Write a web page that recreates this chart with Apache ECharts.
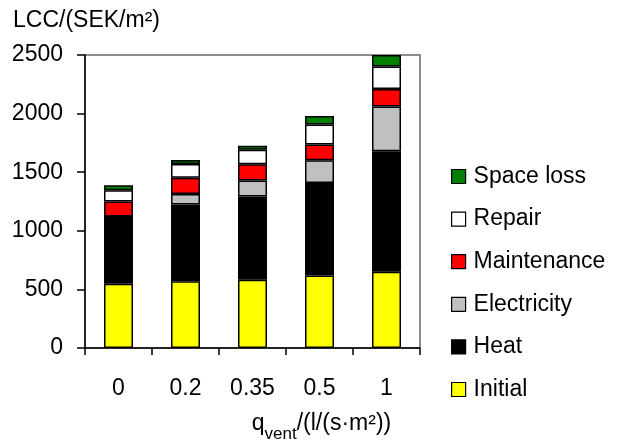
<!DOCTYPE html>
<html>
<head>
<meta charset="utf-8">
<script src="https://cdn.jsdelivr.net/npm/echarts@6/dist/echarts.min.js"></script>
<style>html,body{margin:0;padding:0;background:#fff}#c{width:621px;height:448px}</style>
</head>
<body>
<div id="c"></div>
<script>
var categories = ['0', '0.2', '0.35', '0.5', '1'];
var initial = [549, 569, 583, 619, 650];
var heat = [572, 656, 709, 789, 1028];
var electricity = [0, 90, 138, 194, 383];
var maintenance = [129, 138, 138, 135, 149];
var repair = [96, 118, 123, 169, 191];
var spaceLoss = [42, 34, 34, 73, 99];
var yTicks = [0, 500, 1000, 1500, 2000, 2500];

var FONT = 'Liberation Sans, Arial, sans-serif';
var FS = 23;
var chart = echarts.init(document.getElementById('c'), null, {renderer: 'canvas'});
function s(name, data, color) {
  return {
    name: name, type: 'bar', stack: 'total', data: data, barWidth: 29,
    itemStyle: {color: color, borderColor: '#000', borderWidth: 1.5},
    emphasis: {disabled: true}
  };
}
chart.setOption({
  animation: false,
  title: {
    text: 'LCC/(SEK/m²)', left: 8, top: 4,
    textStyle: {fontFamily: FONT, fontSize: FS, fontWeight: 'normal', color: '#000'}
  },
  grid: {left: 85, right: 201, top: 55, bottom: 97, show: true, borderColor: '#8c8c8c', borderWidth: 2, backgroundColor: 'transparent'},
  legend: {
    orient: 'vertical', left: 446, top: 160, itemWidth: 14, itemHeight: 14, itemGap: 19.6,
    icon: 'rect',
    data: ['Space loss', 'Repair', 'Maintenance', 'Electricity', 'Heat', 'Initial'],
    textStyle: {fontFamily: FONT, fontSize: FS, lineHeight: 22, color: '#000', padding: [0, 0, 0, 3]},
    itemStyle: {borderColor: '#000', borderWidth: 1.2},
    selectedMode: false
  },
  xAxis: {
    type: 'category', data: categories,
    axisLine: {lineStyle: {color: '#000', width: 1.5}},
    axisTick: {show: true, length: 7, lineStyle: {color: '#000', width: 1.5}},
    axisLabel: {fontFamily: FONT, fontSize: FS, color: '#000', margin: 29},
    name: '{q|q}{s|vent}{q|/(l/(s·m²))}',
    nameLocation: 'middle', nameGap: 64,
    nameTextStyle: {
      padding: [0, 0, 0, 138],
      rich: {
        q: {fontFamily: FONT, fontSize: FS, color: '#000'},
        s: {fontFamily: FONT, fontSize: 17, color: '#000', verticalAlign: 'bottom', padding: [0, 0, -8, 0]}
      }
    }
  },
  yAxis: {
    type: 'value', min: yTicks[0], max: yTicks[yTicks.length - 1], interval: 500,
    axisLine: {show: true, lineStyle: {color: '#000', width: 1.5}},
    axisTick: {show: true, length: 8, lineStyle: {color: '#000', width: 1.5}},
    axisLabel: {fontFamily: FONT, fontSize: FS, color: '#000', margin: 22, formatter: function (v) { return String(v); }},
    splitLine: {show: false}
  },
  series: [
    s('Initial', initial, '#ffff00'),
    s('Heat', heat, '#000000'),
    s('Electricity', electricity, '#c0c0c0'),
    s('Maintenance', maintenance, '#ff0000'),
    s('Repair', repair, '#ffffff'),
    s('Space loss', spaceLoss, '#008000')
  ]
});
</script>
</body>
</html>
